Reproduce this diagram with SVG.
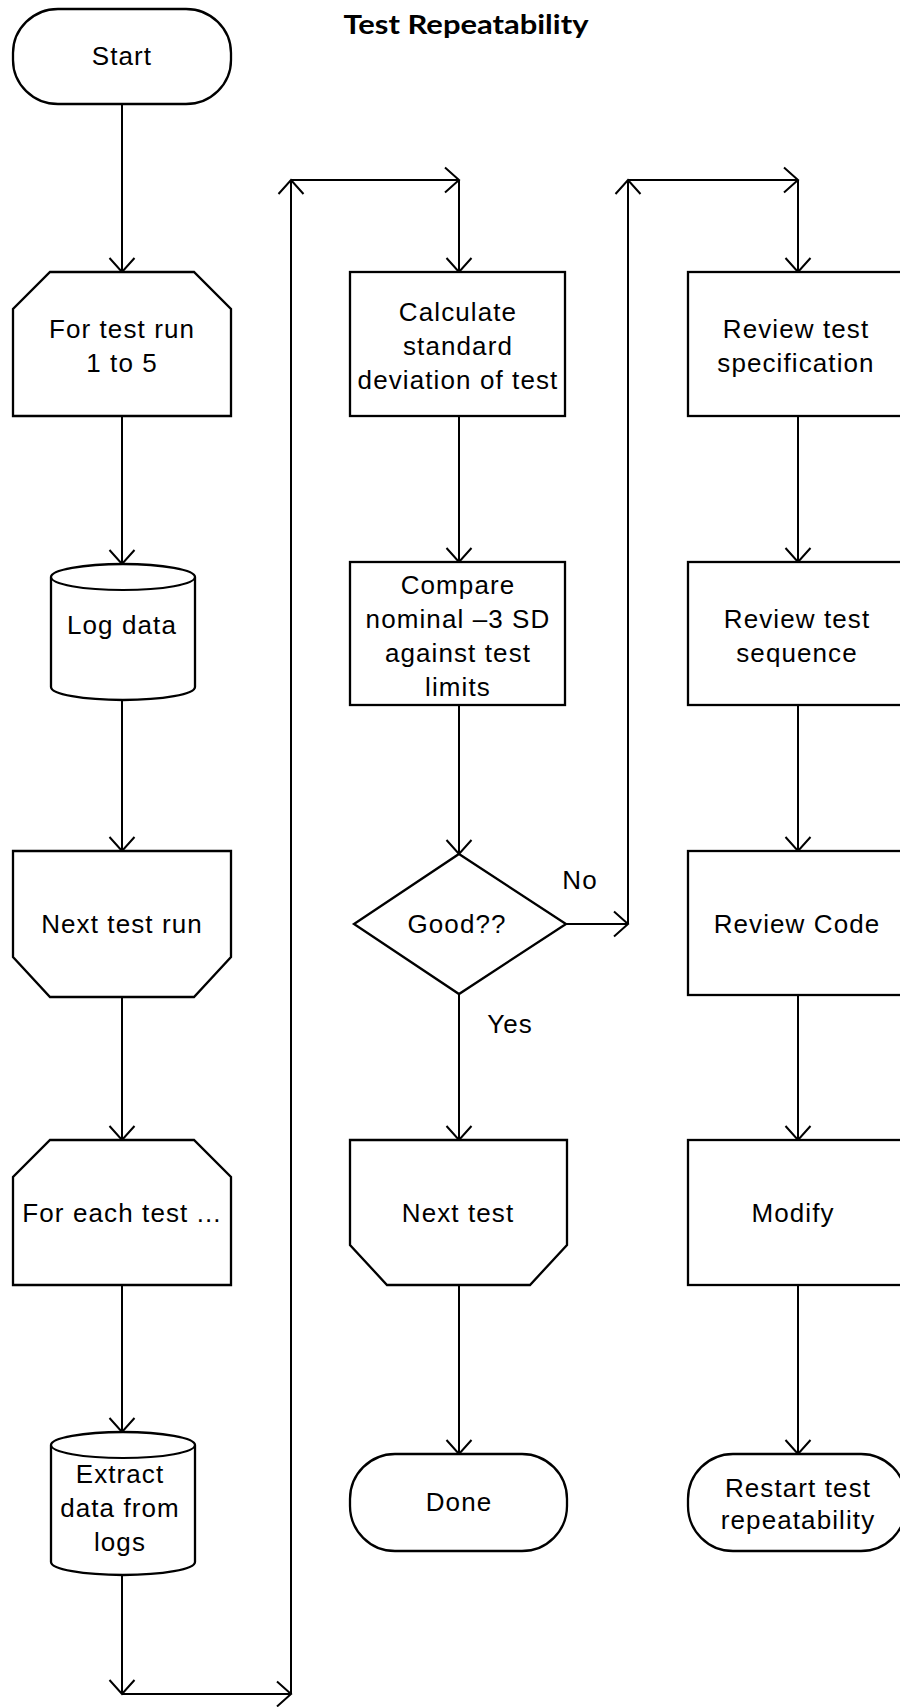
<svg xmlns="http://www.w3.org/2000/svg" width="900" height="1707" viewBox="0 0 900 1707">
<style>
.s{fill:#fff;stroke:#000;stroke-width:2.3}
.c{fill:none;stroke:#000;stroke-width:2}
.t{font-family:"Liberation Sans",Arial,sans-serif;font-size:26px;fill:#000;text-anchor:middle;letter-spacing:1.1px}
.h{font-family:Lato,"Open Sans",sans-serif;font-size:27px;font-weight:bold;fill:#000;text-anchor:middle}
</style>
<defs>
<marker id="a" markerUnits="userSpaceOnUse" markerWidth="30" markerHeight="30" refX="0" refY="0" viewBox="-16 -15 18 30" orient="auto" overflow="visible">
<path d="M-14,-12.5 L0,0 L-14,12.5" fill="none" stroke="#000" stroke-width="2"/>
</marker>
</defs>
<rect width="900" height="1707" fill="#fff"/>
<text class="h" x="466" y="34" textLength="245" lengthAdjust="spacingAndGlyphs">Test Repeatability</text>

<g id="connectors">
<path class="c" d="M122,104 V272" marker-end="url(#a)"/>
<path class="c" d="M122,416 V564" marker-end="url(#a)"/>
<path class="c" d="M122,699 V851" marker-end="url(#a)"/>
<path class="c" d="M122,997 V1140" marker-end="url(#a)"/>
<path class="c" d="M122,1285 V1432" marker-end="url(#a)"/>
<path class="c" d="M122,1575 V1694" marker-end="url(#a)"/>
<path class="c" d="M122,1694 H291" marker-end="url(#a)"/>
<path class="c" d="M291,1694 V180" marker-end="url(#a)"/>
<path class="c" d="M291,180 H459" marker-end="url(#a)"/>
<path class="c" d="M459,180 V272" marker-end="url(#a)"/>
<path class="c" d="M459,416 V562" marker-end="url(#a)"/>
<path class="c" d="M459,705 V854" marker-end="url(#a)"/>
<path class="c" d="M459,994 V1140" marker-end="url(#a)"/>
<path class="c" d="M459,1285 V1454" marker-end="url(#a)"/>
<path class="c" d="M566,924 H628" marker-end="url(#a)"/>
<path class="c" d="M628,924 V180" marker-end="url(#a)"/>
<path class="c" d="M628,180 H798" marker-end="url(#a)"/>
<path class="c" d="M798,180 V272" marker-end="url(#a)"/>
<path class="c" d="M798,416 V562" marker-end="url(#a)"/>
<path class="c" d="M798,705 V851" marker-end="url(#a)"/>
<path class="c" d="M798,995 V1140" marker-end="url(#a)"/>
<path class="c" d="M798,1285 V1454" marker-end="url(#a)"/>
<text class="t" x="580" y="889">No</text>
<text class="t" x="510" y="1033">Yes</text>
</g>

<g id="start">
<rect class="s" x="13" y="9" width="218" height="95" rx="45" ry="44"/>
<text class="t" x="122" y="65">Start</text>
</g>
<g id="for-test-run">
<path class="s" d="M50,272 H194 L231,309 V416 H13 V309 Z"/>
<text class="t" x="122" y="338">For test run</text>
<text class="t" x="122" y="372">1 to 5</text>
</g>
<g id="log-data">
<path class="s" d="M51,577 A72,13 0 0 1 195,577 V687 A72,13 0 0 1 51,687 Z"/>
<path class="c" d="M51,577 A72,13 0 0 0 195,577"/>
<text class="t" x="122" y="634">Log data</text>
</g>
<g id="next-test-run">
<path class="s" d="M13,851 H231 V957 L194,997 H50 L13,957 Z"/>
<text class="t" x="122" y="933">Next test run</text>
</g>
<g id="for-each-test">
<path class="s" d="M50,1140 H194 L231,1177 V1285 H13 V1177 Z"/>
<text class="t" x="122" y="1222">For each test ...</text>
</g>
<g id="extract">
<path class="s" d="M51,1445 A72,13 0 0 1 195,1445 V1562 A72,13 0 0 1 51,1562 Z"/>
<path class="c" d="M51,1445 A72,13 0 0 0 195,1445"/>
<text class="t" x="120" y="1483">Extract</text>
<text class="t" x="120" y="1517">data from</text>
<text class="t" x="120" y="1551">logs</text>
</g>

<g id="calculate">
<rect class="s" x="350" y="272" width="215" height="144"/>
<text class="t" x="458" y="321">Calculate</text>
<text class="t" x="458" y="355">standard</text>
<text class="t" x="458" y="389">deviation of test</text>
</g>
<g id="compare">
<rect class="s" x="350" y="562" width="215" height="143"/>
<text class="t" x="458" y="594">Compare</text>
<text class="t" x="458" y="628">nominal –3 SD</text>
<text class="t" x="458" y="662">against test</text>
<text class="t" x="458" y="696">limits</text>
</g>
<g id="good">
<path class="s" d="M459,854 L566,924 L459,994 L354,924 Z"/>
<text class="t" x="457" y="933">Good??</text>
</g>
<g id="next-test">
<path class="s" d="M350,1140 H567 V1245 L530,1285 H387 L350,1245 Z"/>
<text class="t" x="458" y="1222">Next test</text>
</g>
<g id="done">
<rect class="s" x="350" y="1454" width="217" height="97" rx="45" ry="45"/>
<text class="t" x="459" y="1511">Done</text>
</g>

<g id="review-spec">
<rect class="s" x="688" y="272" width="218" height="144"/>
<text class="t" x="796" y="338">Review test</text>
<text class="t" x="796" y="372">specification</text>
</g>
<g id="review-seq">
<rect class="s" x="688" y="562" width="218" height="143"/>
<text class="t" x="797" y="628">Review test</text>
<text class="t" x="797" y="662">sequence</text>
</g>
<g id="review-code">
<rect class="s" x="688" y="851" width="218" height="144"/>
<text class="t" x="797" y="933">Review Code</text>
</g>
<g id="modify">
<rect class="s" x="688" y="1140" width="218" height="145"/>
<text class="t" x="793" y="1222">Modify</text>
</g>
<g id="restart">
<rect class="s" x="688" y="1454" width="218" height="97" rx="45" ry="45"/>
<text class="t" x="798" y="1497">Restart test</text>
<text class="t" x="798" y="1529">repeatability</text>
</g>
</svg>
